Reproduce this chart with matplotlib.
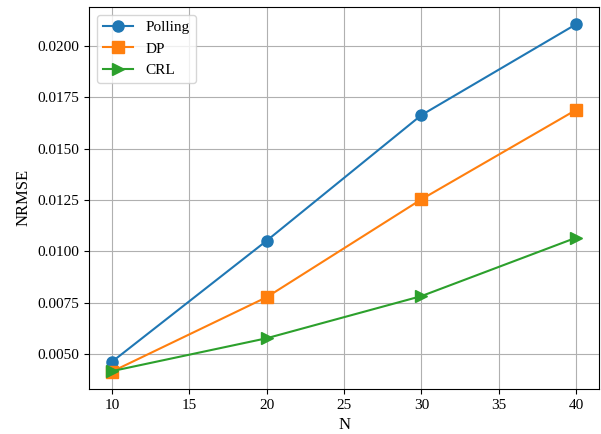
import matplotlib
matplotlib.use("Agg")
import matplotlib.pyplot as plt

plt.rcParams['font.family'] = ['Liberation Serif', 'DejaVu Serif']

# data
n_values = [10, 20, 30, 40]
polling = [0.00463, 0.01052, 0.01663, 0.02105]
dp = [0.00415, 0.00777, 0.01253, 0.01688]
crl = [0.00417, 0.00577, 0.00782, 0.01066]

fig, ax = plt.subplots(figsize=(6.01, 4.34), dpi=100)
fig.subplots_adjust(left=0.148, right=0.997, top=0.984, bottom=0.104)

ax.plot(n_values, polling, marker='o', markersize=8, label='Polling')
ax.plot(n_values, dp, marker='s', markersize=8, label='DP')
ax.plot(n_values, crl, marker='>', markersize=8, label='CRL')

ax.set_xlabel('N', fontsize=12)
ax.set_ylabel('NRMSE', fontsize=12)
ax.tick_params(labelsize=11)
ax.grid(True)
ax.legend(loc='upper left', fontsize=11)

fig.savefig('out.png', dpi=100)
